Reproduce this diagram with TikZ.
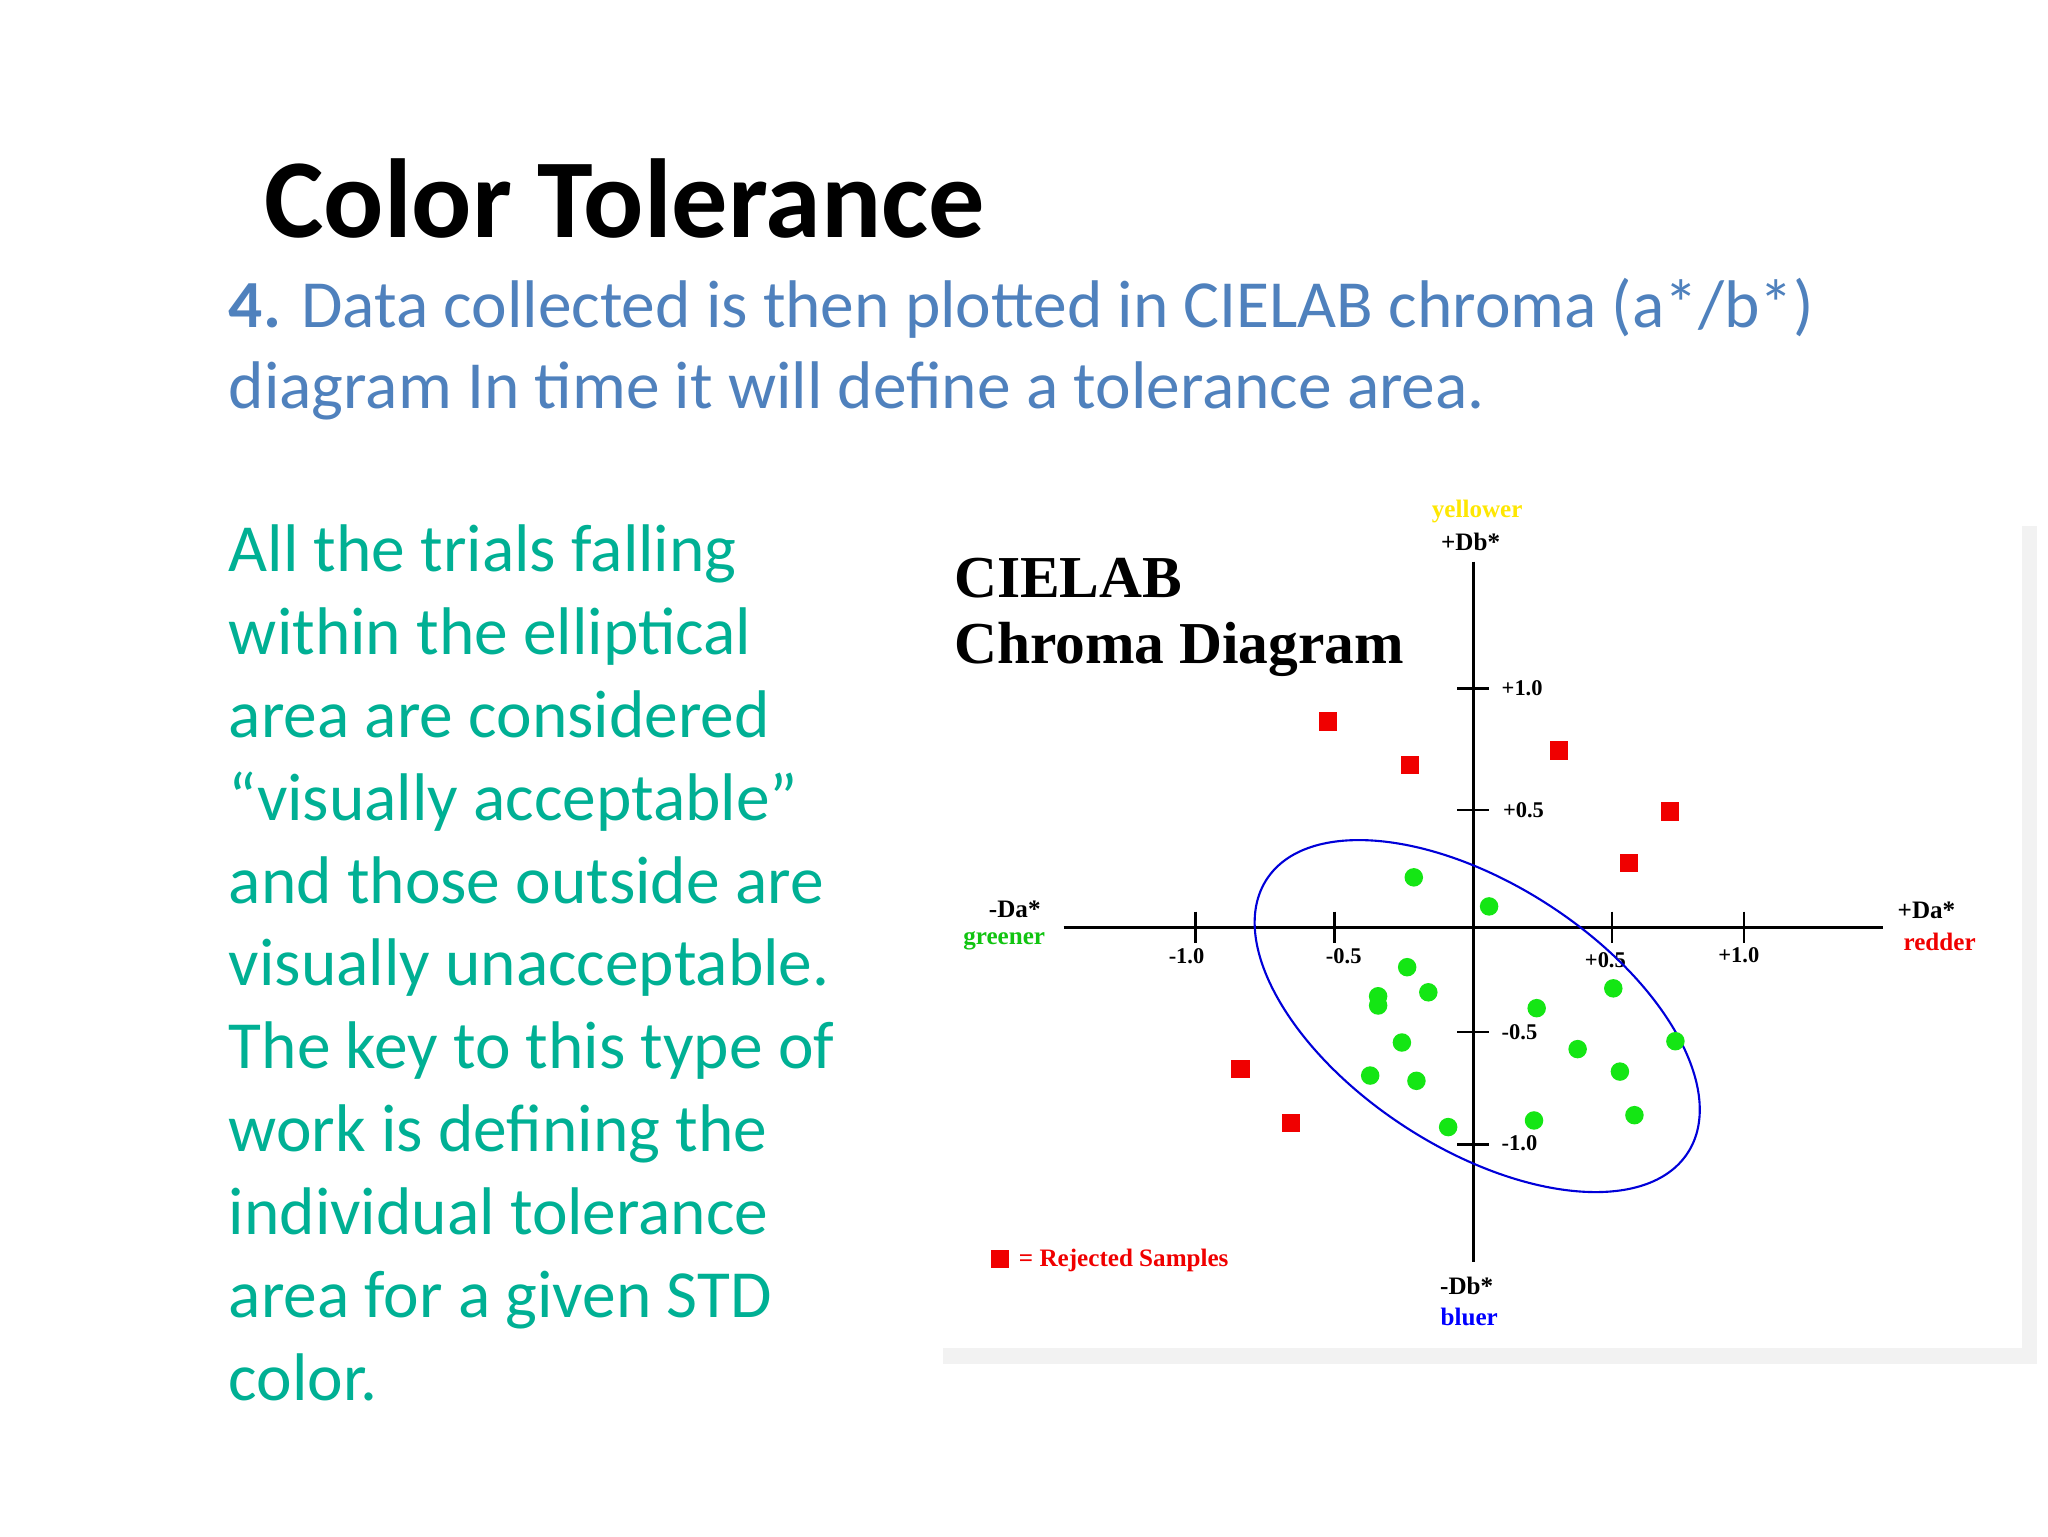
\documentclass[tikz,border=0pt]{standalone}
\usepackage{fontspec}
\setmainfont{Carlito}
\newfontfamily\chartfont{Liberation Serif}
\definecolor{slideblue}{RGB}{79,129,189}
\definecolor{slidegreen}{RGB}{0,176,148}
\definecolor{ptred}{RGB}{240,0,0}
\definecolor{ptgreen}{RGB}{20,230,20}
\begin{document}
\begin{tikzpicture}[x=1pt,y=-1pt,
  rej/.style={fill=ptred,draw=none,minimum size=14pt,inner sep=0pt},
  acc/.style={circle,fill=ptgreen,draw=none,minimum size=14pt,inner sep=0pt},
  lab/.style={font=\chartfont\bfseries\fontsize{19}{20}\selectfont,inner sep=0pt},
  tick/.style={font=\chartfont\bfseries\fontsize{17}{18}\selectfont,inner sep=0pt}]
\useasboundingbox (0,0) rectangle (1550,1162.5);
\fill[white] (0,0) rectangle (1550,1162.5);
% title and text
\node[anchor=base west,inner sep=0pt,font=\bfseries\fontsize{85}{88}\selectfont] (title) at (200,180) {Color Tolerance};
\node[anchor=north west,inner sep=0pt,text=slideblue,font=\fontsize{51}{62}\selectfont,align=left] (intro) at (173,210)
 {\textbf{4.} Data collected is then plotted in CIELAB chroma (a*/b*)\\diagram In time it will define a tolerance area.};
\node[anchor=north west,inner sep=0pt,text=slidegreen,font=\fontsize{51}{62.7}\selectfont,align=left] (body) at (173,397)
 {All the trials falling\\within the elliptical\\area are considered\\“visually acceptable”\\and those outside are\\visually unacceptable.\\The key to this type of\\work is defining the\\individual tolerance\\area for a given STD\\color.};
% panel
\fill[black!5] (714,398) rectangle (1542,1032);
\fill[white] (710,392) rectangle (1530,1020);
% axes
\coordinate (o) at (1115,702);
\coordinate (xl) at (805,702); \coordinate (xr) at (1425,702);
\coordinate (yt) at (1115,425); \coordinate (yb) at (1115,955);
\draw[line width=2.5pt] (xl) -- (xr);
\draw[line width=2.5pt] (yt) -- (yb);
\foreach \x in {905,1010,1220,1320} \draw[line width=2pt] (\x,690) -- (\x,714);
\foreach \y in {521,613,781,866} \draw[line width=2pt] (1103,\y) -- (1127,\y);
\node[tick] (tx1) at (898,724) {-1.0};
\node[tick] (tx2) at (1017,724) {-0.5};
\node[tick] (tx3) at (1215,727) {+0.5};
\node[tick] (tx4) at (1316,723) {+1.0};
\node[tick] (ty1) at (1152,521) {+1.0};
\node[tick] (ty2) at (1153,613) {+0.5};
\node[tick] (ty3) at (1150,781) {-0.5};
\node[tick] (ty4) at (1150,865) {-1.0};
% ellipse
\draw[blue!85!black,line width=1.6pt,rotate around={-33:(1118,769)}] (1118,769) ellipse [x radius=190,y radius=100];
% points
\foreach \p in {(1005,546),(1067,579),(1180,568),(1264,614),(1233,653),(939,809),(977,850)} \node[rej] at \p {};
\foreach \p in {(1070,664),(1127,686),(1065,732),(1081,751),(1043,754),(1043,761),(1221,748),(1163,763),(1061,789),(1194,794),(1268,788),(1037,814),(1072,818),(1226,811),(1096,853),(1161,848),(1237,844)} \node[acc] at \p {};
% axis labels
\node[lab,text=yellow!90!orange] (yel) at (1118,387) {yellower};
\node[lab] (pdb) at (1113,410) {+Db*};
\node[lab] (mda) at (768,688) {-Da*};
\node[lab,text=ptgreen!85!black] (grn) at (760,712) {greener};
\node[lab] (pda) at (1458,689) {+Da*};
\node[lab,text=ptred] (red) at (1468,713) {redder};
\node[lab] (mdb) at (1110,973) {-Db*};
\node[lab,text=blue] (blu) at (1112,997) {bluer};
\node[anchor=north west,inner sep=0pt,font=\chartfont\bfseries\fontsize{45}{50}\selectfont,align=left] (ct) at (722,422) {CIELAB\\Chroma Diagram};
\node[rej] (lg) at (757,953) {};
\node[lab,anchor=west,text=ptred] (lgt) at (771,954) {= Rejected Samples};
\end{tikzpicture}
\end{document}
